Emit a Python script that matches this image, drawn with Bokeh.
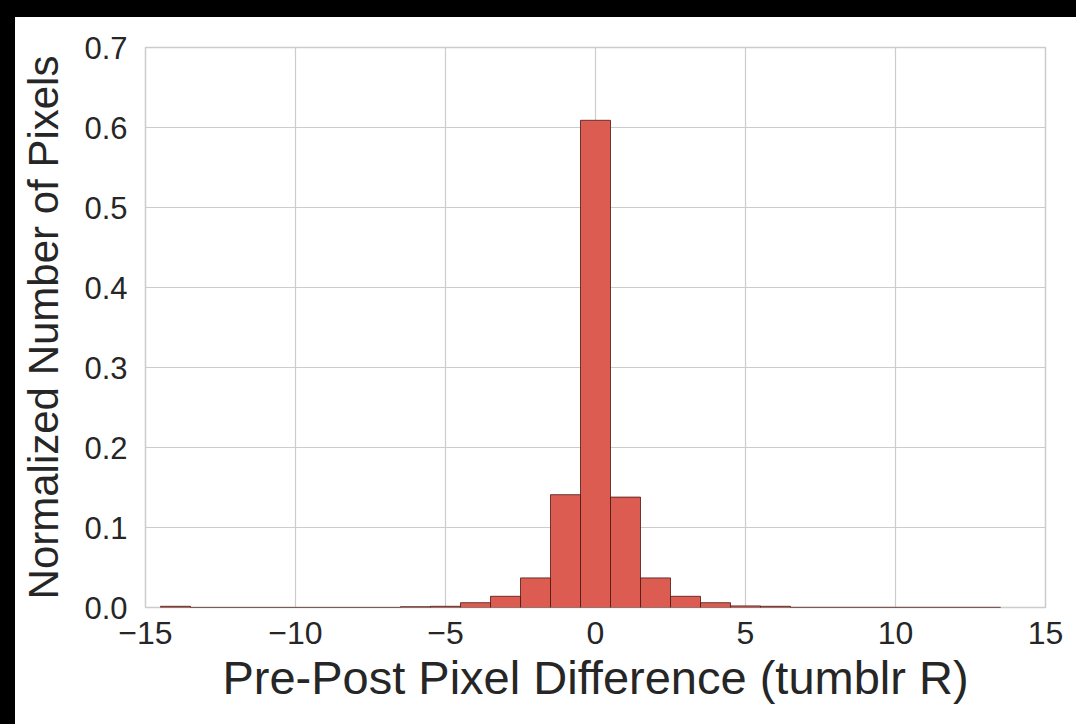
from bokeh.plotting import figure
from bokeh.models import FixedTicker, ColumnDataSource, Div
from bokeh.layouts import column, row
from bokeh.embed import file_html
from bokeh.resources import INLINE

# Data
bin_centers = list(range(-14, 14))
bin_values = [0.0015, 0.0001, 0.0001, 0.0001, 0.0001, 0.0001, 0.0001, 0.0001,
              0.001, 0.0015, 0.006, 0.014, 0.037, 0.141, 0.609, 0.138,
              0.037, 0.014, 0.006, 0.002, 0.0015, 0.0002, 0.0002, 0.0002,
              0.0002, 0.0002, 0.0002, 0.0002]
bin_width = 1.0
x_ticks = [-15, -10, -5, 0, 5, 10, 15]
y_ticks = [0.0, 0.1, 0.2, 0.3, 0.4, 0.5, 0.6, 0.7]
x_label = "Pre-Post Pixel Difference (tumblr R)"
y_label = "Normalized Number of Pixels"

src = ColumnDataSource(dict(x=bin_centers, top=bin_values))

p = figure(width=1061, height=707, frame_width=900, frame_height=560,
           x_range=(-15, 15), y_range=(0, 0.7),
           output_backend="svg", toolbar_location=None,
           min_border_left=130, min_border_right=31,
           min_border_top=30, min_border_bottom=117)

p.vbar(x="x", top="top", width=bin_width, bottom=0, source=src,
       fill_color="#dc5c52", line_color="#4a1712", line_width=0.8)

text_color = "#262626"
font = "Liberation Sans"

p.xaxis.ticker = FixedTicker(ticks=x_ticks)
p.xaxis.major_label_overrides = {t: (str(t).replace("-", "\u2212")) for t in x_ticks}
p.yaxis.ticker = FixedTicker(ticks=y_ticks)
p.yaxis.major_label_overrides = {t: f"{t:.1f}" for t in y_ticks}

for ax in (p.xaxis[0], p.yaxis[0]):
    ax.axis_line_color = None
    ax.major_tick_line_color = None
    ax.minor_tick_line_color = None
    ax.major_label_text_font = font
    ax.major_label_text_color = text_color
    ax.axis_label_text_font = font
    ax.axis_label_text_font_style = "normal"
    ax.axis_label_text_color = text_color

p.xaxis.major_label_text_font_size = "32px"
p.yaxis.major_label_text_font_size = "31px"
p.xaxis.axis_label_text_font_size = "47px"
p.yaxis.axis_label_text_font_size = "42px"

p.xaxis.axis_label = x_label
p.yaxis.axis_label = y_label
p.xaxis.major_label_standoff = 8
p.xaxis.axis_label_standoff = 4
p.yaxis.major_label_standoff = 12
p.yaxis.axis_label_standoff = 14

p.xgrid.ticker = FixedTicker(ticks=x_ticks)
p.ygrid.ticker = FixedTicker(ticks=y_ticks)
p.grid.grid_line_color = "#cccccc"
p.grid.grid_line_width = 1.2
p.outline_line_color = "#cccccc"
p.outline_line_width = 1.5
p.background_fill_color = "white"
p.border_fill_color = "white"

# dark strips along the top and left edges of the original picture
top_strip = Div(text="", width=1076, height=17, margin=0,
                styles={"background-color": "#000000"})
left_strip = Div(text="", width=15, height=707, margin=0,
                 styles={"background-color": "#000000"})
layout = column(top_strip, row(left_strip, p, spacing=0), spacing=0)

html = file_html(layout, INLINE)
open("out.html", "w").write(html)
